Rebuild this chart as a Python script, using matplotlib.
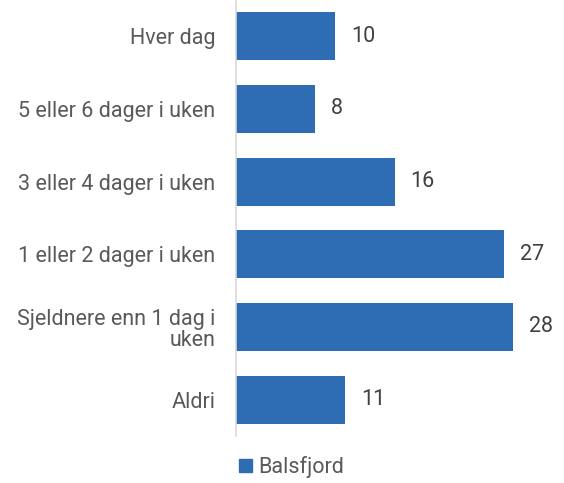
import matplotlib
matplotlib.use("Agg")
import matplotlib.pyplot as plt
from matplotlib.patches import Patch

categories = ["Hver dag", "5 eller 6 dager i uken", "3 eller 4 dager i uken",
              "1 eller 2 dager i uken", "Sjeldnere enn 1 dag i\nuken", "Aldri"]
values = [10, 8, 16, 27, 28, 11]
series_name = "Balsfjord"

BAR_COLOR = "#2E6DB4"
TEXT_COLOR = "#595959"

plt.rcParams["font.family"] = ["Roboto", "DejaVu Sans"]

fig = plt.figure(figsize=(5.64, 4.83), dpi=100)
ax = fig.add_axes([236 / 564, 1 - 436 / 483, 1 - 236 / 564, 436 / 483])

pos = list(range(len(categories)))
bars = ax.barh(pos, values, height=0.66, color=BAR_COLOR)
ax.set_ylim(len(categories) - 0.5, -0.5)
ax.set_xlim(0, 33.1)

for b, v in zip(bars, values):
    ax.annotate(str(v), (b.get_width(), b.get_y() + b.get_height() / 2),
                xytext=(16, 0), textcoords="offset pixels",
                va="center", ha="left", fontsize=15.5, color="#404040")

ax.set_yticks(pos)
ax.set_yticklabels(categories, fontsize=15.5, color=TEXT_COLOR, linespacing=1.0)
ax.tick_params(axis="y", length=0, pad=15)
ax.set_xticks([])
for s in ["top", "right", "bottom"]:
    ax.spines[s].set_visible(False)
ax.spines["left"].set_color("#D9D9D9")
ax.spines["left"].set_linewidth(1.2)

fig.legend(handles=[Patch(color=BAR_COLOR, label=series_name)],
           loc="center", bbox_to_anchor=(292 / 564, 16 / 483), frameon=False,
           fontsize=15.5, handlelength=0.6, handleheight=0.6, handletextpad=0.3,
           labelcolor=TEXT_COLOR)

fig.savefig("out.png", dpi=100)
